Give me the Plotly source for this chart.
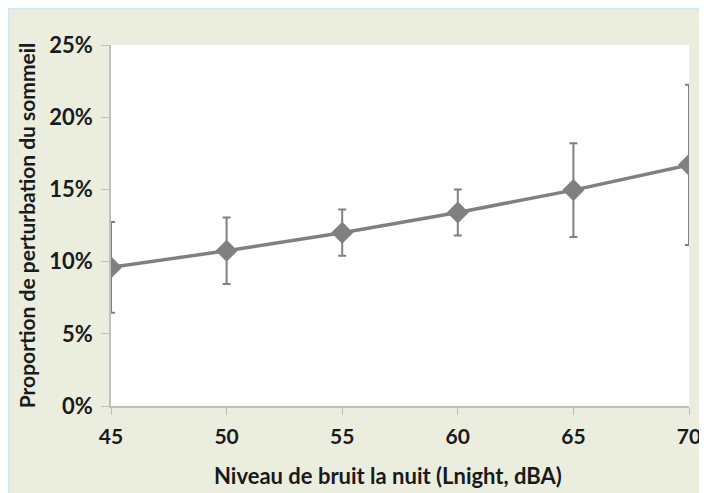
import plotly.graph_objects as go

# niveau de bruit (Lnight, dBA) et proportion de perturbation du sommeil (%)
noise_levels = [45, 50, 55, 60, 65, 70]
disturbance = [9.6, 10.75, 12.0, 13.4, 14.95, 16.7]
error_margin = [3.15, 2.3, 1.6, 1.6, 3.25, 5.55]

y_ticks = [0, 5, 10, 15, 20, 25]
y_labels = ["0%", "5%", "10%", "15%", "20%", "25%"]

# la page ajoute ~8px de marge autour de la figure
W, H = 699, 485
ML, MR, MT, MB = 103, 18, 37, 87
PW, PH = W - ML - MR, H - MT - MB

BG = "#EBEEDF"
GREY = "#808080"
AXIS = "#BFBFBF"
FONT = "Lato, 'Open Sans', sans-serif"


def px_x(p):
    return (p - ML) / PW


def px_y(p):
    return (H - MB - p) / PH


fig = go.Figure()
fig.add_trace(
    go.Scatter(
        x=noise_levels,
        y=disturbance,
        mode="lines+markers",
        line=dict(color=GREY, width=3.5),
        marker=dict(symbol="diamond", size=17, color=GREY),
        error_y=dict(
            type="data",
            array=error_margin,
            symmetric=True,
            color=GREY,
            thickness=2,
            width=4,
        ),
        showlegend=False,
    )
)

# bordure bleu clair (haut et gauche)
fig.add_shape(
    type="line", xref="paper", yref="paper",
    x0=px_x(0), x1=px_x(W), y0=px_y(0.7), y1=px_y(0.7),
    line=dict(color="#CFE9F2", width=1.5), layer="above",
)
fig.add_shape(
    type="line", xref="paper", yref="paper",
    x0=px_x(0.7), x1=px_x(0.7), y0=px_y(0), y1=px_y(H),
    line=dict(color="#CFE9F2", width=1.5), layer="above",
)

# titre de l'axe x, centré sur le graphique entier
fig.add_annotation(
    text="Niveau de bruit la nuit (Lnight, dBA)",
    xref="paper", yref="paper",
    x=px_x(380), y=px_y(467),
    xanchor="center", yanchor="middle",
    showarrow=False,
    font=dict(size=22, family=FONT, weight="bold", color="#1a1a1a"),
)

fig.update_layout(
    width=W,
    height=H,
    margin=dict(l=ML, r=MR, t=MT, b=MB, autoexpand=False),
    paper_bgcolor=BG,
    plot_bgcolor="white",
    font=dict(family=FONT, color="#1a1a1a"),
    xaxis=dict(
        range=[45, 70],
        tickvals=noise_levels,
        automargin=False,
        showgrid=False,
        zeroline=False,
        showline=True,
        linecolor=AXIS,
        linewidth=1.5,
        ticks="outside",
        ticklen=7,
        tickcolor=AXIS,
        ticklabelstandoff=4,
        tickfont=dict(size=21, family=FONT, weight="bold"),
    ),
    yaxis=dict(
        range=[0, 25],
        tickvals=y_ticks,
        ticktext=y_labels,
        automargin=False,
        showgrid=False,
        zeroline=False,
        showline=True,
        linecolor=AXIS,
        linewidth=1.5,
        ticks="outside",
        ticklen=8,
        tickcolor=AXIS,
        ticklabelstandoff=4,
        tickfont=dict(size=22, family=FONT, weight="bold"),
        title=dict(
            text="Proportion de perturbation du sommeil",
            font=dict(size=21, family=FONT, weight="bold"),
            standoff=8,
        ),
    ),
)

fig.write_html("out.html")
